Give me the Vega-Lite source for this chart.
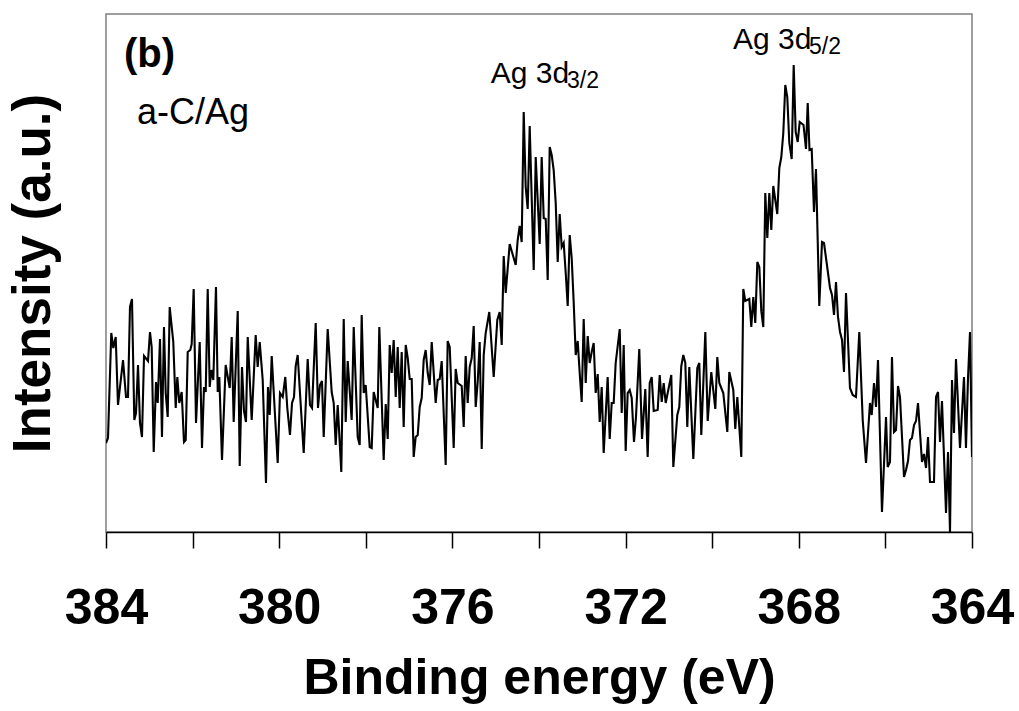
{
  "$schema": "https://vega.github.io/schema/vega-lite/v6.json",
  "width": 866,
  "height": 518,
  "autosize": {"type": "none"},
  "padding": {"left": 106, "top": 14, "right": 47, "bottom": 179},
  "background": "white",
  "config": {
    "font": "Liberation Sans",
    "view": {"stroke": "#7f7f7f", "strokeWidth": 1.5}
  },
  "datasets": {
    "spectrum": [
      {"e":384.000,"i":89},{"e":383.954,"i":94},{"e":383.878,"i":199},{"e":383.831,"i":184},{"e":383.776,"i":195},{"e":383.723,"i":127},{"e":383.607,"i":172},{"e":383.538,"i":135},{"e":383.492,"i":135},{"e":383.446,"i":225},
      {"e":383.400,"i":233},{"e":383.346,"i":112},{"e":383.307,"i":119},{"e":383.261,"i":167},{"e":383.215,"i":109},{"e":383.169,"i":95},{"e":383.122,"i":176},{"e":383.030,"i":171},{"e":382.984,"i":200},{"e":382.945,"i":185},
      {"e":382.898,"i":80},{"e":382.845,"i":150},{"e":382.806,"i":129},{"e":382.753,"i":193},{"e":382.707,"i":95},{"e":382.661,"i":205},{"e":382.621,"i":139},{"e":382.575,"i":115},{"e":382.529,"i":225},{"e":382.446,"i":190},
      {"e":382.390,"i":124},{"e":382.353,"i":155},{"e":382.307,"i":129},{"e":382.252,"i":140},{"e":382.199,"i":90},{"e":382.159,"i":92},{"e":382.113,"i":180},{"e":382.053,"i":182},{"e":382.021,"i":188},{"e":381.975,"i":243},
      {"e":381.921,"i":109},{"e":381.836,"i":190},{"e":381.783,"i":84},{"e":381.737,"i":145},{"e":381.697,"i":140},{"e":381.651,"i":243},{"e":381.605,"i":145},{"e":381.568,"i":162},{"e":381.522,"i":152},{"e":381.460,"i":245},
      {"e":381.420,"i":140},{"e":381.383,"i":155},{"e":381.321,"i":72},{"e":381.236,"i":167},{"e":381.143,"i":144},{"e":381.097,"i":195},{"e":381.051,"i":110},{"e":380.958,"i":221},{"e":380.912,"i":66},{"e":380.859,"i":165},
      {"e":380.813,"i":121},{"e":380.767,"i":110},{"e":380.727,"i":195},{"e":380.635,"i":112},{"e":380.543,"i":197},{"e":380.497,"i":165},{"e":380.450,"i":190},{"e":380.381,"i":152},{"e":380.305,"i":49},{"e":380.259,"i":145},
      {"e":380.219,"i":117},{"e":380.173,"i":176},{"e":380.035,"i":69},{"e":379.982,"i":139},{"e":379.919,"i":135},{"e":379.859,"i":155},{"e":379.813,"i":124},{"e":379.751,"i":97},{"e":379.704,"i":129},{"e":379.658,"i":135},
      {"e":379.619,"i":166},{"e":379.573,"i":177},{"e":379.520,"i":139},{"e":379.434,"i":79},{"e":379.342,"i":173},{"e":379.289,"i":127},{"e":379.242,"i":124},{"e":379.157,"i":209},{"e":379.104,"i":124},{"e":379.058,"i":147},
      {"e":379.012,"i":151},{"e":378.972,"i":95},{"e":378.880,"i":203},{"e":378.788,"i":140},{"e":378.741,"i":129},{"e":378.695,"i":87},{"e":378.649,"i":127},{"e":378.566,"i":60},{"e":378.510,"i":213},{"e":378.464,"i":110},
      {"e":378.418,"i":171},{"e":378.326,"i":112},{"e":378.279,"i":205},{"e":378.187,"i":95},{"e":378.141,"i":87},{"e":378.095,"i":217},{"e":378.048,"i":139},{"e":378.002,"i":147},{"e":377.910,"i":85},{"e":377.864,"i":84},
      {"e":377.818,"i":140},{"e":377.725,"i":124},{"e":377.688,"i":205},{"e":377.587,"i":72},{"e":377.540,"i":128},{"e":377.494,"i":93},{"e":377.448,"i":187},{"e":377.402,"i":159},{"e":377.356,"i":192},{"e":377.309,"i":135},
      {"e":377.263,"i":185},{"e":377.217,"i":124},{"e":377.171,"i":180},{"e":377.125,"i":105},{"e":377.078,"i":187},{"e":377.032,"i":174},{"e":376.986,"i":153},{"e":376.940,"i":153},{"e":376.894,"i":75},{"e":376.848,"i":95},
      {"e":376.801,"i":97},{"e":376.755,"i":125},{"e":376.709,"i":134},{"e":376.663,"i":172},{"e":376.617,"i":182},{"e":376.570,"i":159},{"e":376.524,"i":147},{"e":376.478,"i":190},{"e":376.386,"i":129},{"e":376.339,"i":152},
      {"e":376.293,"i":153},{"e":376.247,"i":171},{"e":376.155,"i":67},{"e":376.109,"i":191},{"e":376.062,"i":185},{"e":375.970,"i":84},{"e":375.924,"i":163},{"e":375.878,"i":149},{"e":375.785,"i":146},{"e":375.739,"i":105},
      {"e":375.693,"i":176},{"e":375.647,"i":129},{"e":375.600,"i":165},{"e":375.554,"i":174},{"e":375.508,"i":206},{"e":375.462,"i":125},{"e":375.416,"i":150},{"e":375.370,"i":190},{"e":375.323,"i":83},{"e":375.277,"i":177},
      {"e":375.231,"i":199},{"e":375.148,"i":220},{"e":375.046,"i":155},{"e":374.963,"i":212},{"e":374.908,"i":220},{"e":374.861,"i":187},{"e":374.815,"i":276},{"e":374.769,"i":239},{"e":374.677,"i":288},{"e":374.538,"i":267},
      {"e":374.492,"i":292},{"e":374.446,"i":306},{"e":374.400,"i":290},{"e":374.353,"i":420},{"e":374.307,"i":345},{"e":374.261,"i":323},{"e":374.215,"i":406},{"e":374.122,"i":262},{"e":374.076,"i":375},{"e":373.984,"i":288},
      {"e":373.938,"i":375},{"e":373.891,"i":314},{"e":373.845,"i":313},{"e":373.799,"i":252},{"e":373.753,"i":385},{"e":373.707,"i":377},{"e":373.661,"i":362},{"e":373.614,"i":329},{"e":373.568,"i":270},{"e":373.522,"i":318},
      {"e":373.476,"i":285},{"e":373.430,"i":289},{"e":373.383,"i":259},{"e":373.337,"i":226},{"e":373.291,"i":297},{"e":373.245,"i":274},{"e":373.199,"i":230},{"e":373.152,"i":177},{"e":373.106,"i":191},{"e":373.060,"i":159},
      {"e":373.014,"i":130},{"e":372.968,"i":213},{"e":372.921,"i":149},{"e":372.875,"i":196},{"e":372.829,"i":169},{"e":372.783,"i":180},{"e":372.737,"i":189},{"e":372.691,"i":139},{"e":372.644,"i":158},{"e":372.598,"i":110},
      {"e":372.552,"i":145},{"e":372.506,"i":79},{"e":372.414,"i":155},{"e":372.367,"i":93},{"e":372.321,"i":129},{"e":372.275,"i":129},{"e":372.229,"i":169},{"e":372.136,"i":203},{"e":372.090,"i":119},{"e":372.044,"i":187},
      {"e":371.998,"i":81},{"e":371.952,"i":139},{"e":371.905,"i":142},{"e":371.859,"i":134},{"e":371.806,"i":90},{"e":371.760,"i":115},{"e":371.684,"i":183},{"e":371.621,"i":93},{"e":371.545,"i":143},{"e":371.490,"i":75},
      {"e":371.443,"i":149},{"e":371.397,"i":155},{"e":371.351,"i":121},{"e":371.259,"i":122},{"e":371.212,"i":157},{"e":371.166,"i":130},{"e":371.120,"i":149},{"e":371.074,"i":129},{"e":370.945,"i":157},{"e":370.898,"i":65},
      {"e":370.806,"i":117},{"e":370.760,"i":125},{"e":370.714,"i":166},{"e":370.667,"i":177},{"e":370.621,"i":169},{"e":370.575,"i":105},{"e":370.529,"i":165},{"e":370.436,"i":73},{"e":370.344,"i":164},{"e":370.298,"i":169},
      {"e":370.252,"i":97},{"e":370.159,"i":200},{"e":370.104,"i":111},{"e":370.021,"i":160},{"e":369.928,"i":123},{"e":369.882,"i":175},{"e":369.836,"i":149},{"e":369.744,"i":139},{"e":369.651,"i":100},{"e":369.605,"i":160},
      {"e":369.513,"i":142},{"e":369.467,"i":103},{"e":369.420,"i":135},{"e":369.328,"i":75},{"e":369.282,"i":243},{"e":369.236,"i":231},{"e":369.143,"i":233},{"e":369.097,"i":205},{"e":369.051,"i":235},{"e":369.005,"i":209},
      {"e":368.958,"i":270},{"e":368.912,"i":265},{"e":368.866,"i":221},{"e":368.820,"i":205},{"e":368.774,"i":339},{"e":368.727,"i":294},{"e":368.681,"i":339},{"e":368.635,"i":302},{"e":368.589,"i":346},{"e":368.497,"i":318},
      {"e":368.450,"i":364},{"e":368.404,"i":375},{"e":368.358,"i":399},{"e":368.312,"i":447},{"e":368.266,"i":435},{"e":368.219,"i":389},{"e":368.164,"i":373},{"e":368.118,"i":467},{"e":368.072,"i":400},{"e":368.025,"i":390},
      {"e":367.979,"i":410},{"e":367.891,"i":407},{"e":367.834,"i":383},{"e":367.794,"i":429},{"e":367.753,"i":382},{"e":367.702,"i":383},{"e":367.649,"i":320},{"e":367.603,"i":363},{"e":367.527,"i":226},{"e":367.464,"i":290},
      {"e":367.418,"i":289},{"e":367.279,"i":244},{"e":367.233,"i":237},{"e":367.187,"i":217},{"e":367.141,"i":250},{"e":367.095,"i":215},{"e":367.048,"i":200},{"e":367.002,"i":192},{"e":366.956,"i":160},{"e":366.910,"i":239},
      {"e":366.818,"i":144},{"e":366.755,"i":137},{"e":366.679,"i":135},{"e":366.603,"i":200},{"e":366.524,"i":112},{"e":366.448,"i":69},{"e":366.356,"i":129},{"e":366.316,"i":117},{"e":366.263,"i":149},{"e":366.217,"i":125},
      {"e":366.171,"i":172},{"e":366.079,"i":20},{"e":365.986,"i":115},{"e":365.947,"i":65},{"e":365.894,"i":70},{"e":365.848,"i":175},{"e":365.801,"i":100},{"e":365.755,"i":102},{"e":365.709,"i":146},{"e":365.663,"i":135},
      {"e":365.570,"i":55},{"e":365.524,"i":62},{"e":365.478,"i":71},{"e":365.432,"i":92},{"e":365.386,"i":94},{"e":365.339,"i":107},{"e":365.293,"i":111},{"e":365.247,"i":129},{"e":365.155,"i":70},{"e":365.109,"i":78},
      {"e":365.062,"i":64},{"e":365.016,"i":95},{"e":364.970,"i":50},{"e":364.878,"i":50},{"e":364.831,"i":135},{"e":364.785,"i":140},{"e":364.739,"i":90},{"e":364.693,"i":131},{"e":364.600,"i":19},{"e":364.554,"i":80},
      {"e":364.508,"i":0},{"e":364.462,"i":152},{"e":364.416,"i":99},{"e":364.370,"i":173},{"e":364.277,"i":84},{"e":364.185,"i":155},{"e":364.139,"i":84},{"e":364.092,"i":154},{"e":364.046,"i":200},{"e":364.000,"i":75}
    ],
    "panel": [{"e": 383.584, "i": 465, "t": "(b)"}],
    "sample": [{"e": 383.284, "i": 408, "t": "a-C/Ag"}],
    "peaks": [
      {"e": 375.115, "i": 449, "t": "Ag 3d"},
      {"e": 369.52, "i": 483, "t": "Ag 3d"}
    ],
    "subs": [
      {"e": 373.353, "i": 444, "t": "3/2"},
      {"e": 367.764, "i": 478, "t": "5/2"}
    ]
  },
  "encoding": {
    "x": {
      "field": "e",
      "type": "quantitative",
      "scale": {"domain": [364, 384], "reverse": true, "nice": false, "zero": false},
      "axis": {
        "title": "Binding energy (eV)",
        "values": [364, 366, 368, 370, 372, 374, 376, 378, 380, 382, 384],
        "labelExpr": "datum.value % 4 === 0 ? datum.label : ''",
        "labelFlush": false,
        "labelOverlap": false,
        "labelBound": false,
        "grid": false,
        "domainColor": "black",
        "domainWidth": 1.5,
        "tickColor": "black",
        "tickWidth": 1.5,
        "tickSize": 16,
        "labelFontSize": 50,
        "labelFontWeight": "bold",
        "labelColor": "black",
        "labelPadding": 35,
        "titleFontSize": 50,
        "titleFontWeight": "bold",
        "titleColor": "black",
        "titlePadding": 20
      }
    },
    "y": {
      "field": "i",
      "type": "quantitative",
      "scale": {"domain": [0, 518], "nice": false, "zero": false},
      "axis": {
        "title": "Intensity (a.u.)",
        "labels": false,
        "ticks": false,
        "domain": false,
        "grid": false,
        "titleFontSize": 53,
        "titleFontWeight": "bold",
        "titleColor": "black",
        "titlePadding": 46
      }
    }
  },
  "layer": [
    {
      "data": {"name": "spectrum"},
      "mark": {"type": "line", "color": "black", "strokeWidth": 2.1, "clip": true, "interpolate": "linear"}
    },
    {
      "data": {"name": "panel"},
      "mark": {"type": "text", "align": "left", "baseline": "alphabetic", "fontSize": 40, "fontWeight": "bold", "color": "black"},
      "encoding": {"text": {"field": "t"}}
    },
    {
      "data": {"name": "sample"},
      "mark": {"type": "text", "align": "left", "baseline": "alphabetic", "fontSize": 36, "color": "black"},
      "encoding": {"text": {"field": "t"}}
    },
    {
      "data": {"name": "peaks"},
      "mark": {"type": "text", "align": "left", "baseline": "alphabetic", "fontSize": 30, "color": "black"},
      "encoding": {"text": {"field": "t"}}
    },
    {
      "data": {"name": "subs"},
      "mark": {"type": "text", "align": "left", "baseline": "alphabetic", "fontSize": 23, "color": "black"},
      "encoding": {"text": {"field": "t"}}
    }
  ]
}
